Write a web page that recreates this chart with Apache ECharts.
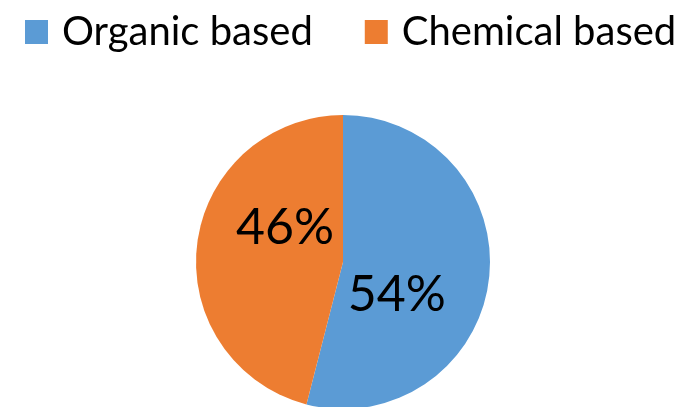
<!DOCTYPE html>
<html>
<head>
<meta charset="utf-8">
<script src="https://cdn.jsdelivr.net/npm/echarts@6/dist/echarts.min.js"></script>
<style>
  html, body { margin: 0; padding: 0; background: #fff; }
  #main { width: 686px; height: 407px; }
</style>
</head>
<body>
<div id="main"></div>
<script>
// data
const categories = ['Organic based', 'Chemical based']
const shares = [54, 46]
const colors = ['#5B9BD5', '#ED7D31']
// label nudges (px) so the percentages sit where the original put them
const labelShift = [[-22, 23], [18, -25]]

const chartDom = document.getElementById('main')
const myChart = echarts.init(chartDom, null, { renderer: 'canvas' })

const option = {
  animation: false,
  color: colors,
  legend: {
    data: categories,
    orient: 'horizontal',
    left: 20,
    top: 7,
    width: 670,
    icon: 'rect',
    itemWidth: 23,
    itemHeight: 24,
    itemGap: 52,
    selectedMode: false,
    textStyle: {
      fontFamily: 'Lato',
      fontSize: 40,
      color: '#000',
      padding: [0, 0, 0, 9],
    },
  },
  series: [
    {
      type: 'pie',
      center: [343, 262],
      radius: 147,
      startAngle: 90,
      clockwise: true,
      silent: true,
      itemStyle: { borderWidth: 0 },
      label: {
        show: true,
        position: 'inside',
        formatter: '{c}%',
        fontFamily: 'Lato',
        fontSize: 50,
        color: '#000',
      },
      labelLine: { show: false },
      labelLayout: function (params) {
        const s = labelShift[params.dataIndex]
        return { dx: s[0], dy: s[1] }
      },
      data: categories.map((name, i) => ({ name: name, value: shares[i] })),
    },
  ],
}

option && myChart.setOption(option)
</script>
</body>
</html>
